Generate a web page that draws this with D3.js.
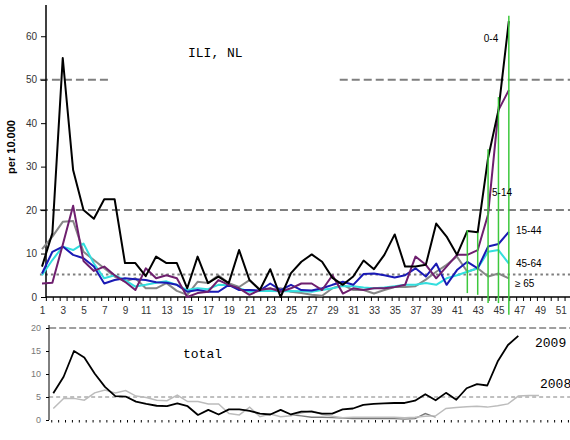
<!DOCTYPE html>
<html>
<head>
<meta charset="utf-8">
<script src="https://cdn.jsdelivr.net/npm/d3@7"></script>
<style>
  body { margin: 0; background: #fff; }
  text { font-family: "Liberation Sans", Arial, sans-serif; }
  .mono { font-family: "Liberation Mono", "Courier New", monospace; }
</style>
</head>
<body>
<svg id="chart" width="570" height="440"></svg>
<script>
// ILI consultation rate per 10.000, by age group, week 1-46 (2009)
var weeks = d3.range(1, 47);
var age0_4   = [7, 14.7, 55, 29.2, 20, 18, 22.5, 22.5, 7.8, 7.8, 4.8, 9.3, 7.8, 7.8, 2, 9.3, 3.2, 4.7, 3.2, 10.8,
                3.9, 1.6, 6.4, 0, 5.5, 8.1, 9.8, 8.1, 4.4, 2.8, 4.7, 8.4, 6.4, 9.7, 14.4, 7, 7, 7.4, 16.9, 13.9,
                9.7, 15.2, 14.9, 32, 43, 63.5];
var age5_14  = [3.1, 3.3, 12, 21, 8.3, 6, 7, 5, 3.5, 1.6, 6.6, 4.3, 5, 4.3, 0, 0.9, 1.2, 3.9, 2.8, 2,
                0.5, 1.6, 2, 1.2, 2, 3.1, 3.1, 1.6, 5, 0.8, 2, 1.6, 2, 2, 2.3, 2.8, 9.3, 7.4, 4.3, 7,
                9.7, 9.7, 10.8, 19, 43, 47.6];
var age15_44 = [5.4, 10.4, 11.6, 9.7, 8.9, 7, 3.1, 3.9, 4.3, 4.1, 3.9, 3.4, 3.3, 2.8, 1.2, 1.6, 1.2, 1.2, 2.8, 1.6,
                1.6, 1.5, 3.1, 1.6, 2.8, 1.6, 1.5, 2, 2.8, 3.5, 2.8, 5.3, 5.4, 5, 4.5, 5, 6.6, 4.7, 7.7, 2.8,
                6.2, 8.1, 6.6, 11.6, 12.2, 15];
var age45_64 = [5, 8.5, 11.6, 10.8, 12.3, 7.7, 4.3, 5, 3.9, 2.4, 2.8, 3.3, 3.6, 2.8, 1.6, 2, 1.8, 2.8, 2.7, 2,
                1.2, 1.4, 1.4, 1.3, 1.4, 1.3, 1.2, 1.6, 2, 2.5, 2.5, 2.2, 2, 2.2, 2.5, 2.8, 2.8, 3.2, 2.8, 4.3,
                5, 5.8, 6.6, 10.4, 10.8, 7.7];
var age65    = [11, 13.9, 17.3, 17.5, 10.4, 8.5, 6.6, 4.7, 3.6, 4.3, 2, 2, 3.2, 1.4, 0.5, 3.5, 3.2, 5, 3.2, 2.3,
                3.9, 1.8, 1.6, 2, 1.2, 0.9, 0.5, 0.3, 2, 2.8, 1.6, 1.6, 0.8, 1.6, 2.3, 2.3, 2.5, 4, 5.8, 7.4,
                9.3, 5.8, 6.6, 4.7, 5.4, 4.3];
var ageLabels = ["0-4", "5-14", "15-44", "45-64", "\u2265 65"];

// green markers at the latest weeks: week, top and bottom value
var markWeeks  = [42, 43, 44, 45, 46];
var markTop    = [15.4, 14.8, 34, 46, 64.7];
var markBottom = [0.9, 0.5, -1.4, -1.4, -4.1];

// reference levels of the top panel: value and week span
var refDashed = [[50, 0.8, 7.6], [50, 29.7, 51.9], [20, 0.8, 51.9]];
var refDotted = [[5.2, 0.8, 51.9]];
var yTicks = [0, 10, 20, 30, 40, 50, 60];
var xTickLabels = d3.range(1, 52, 2);

// total panel
var weeks2008 = d3.range(1, 49);
var total2009 = [5.8, 9.4, 15, 13.6, 10.1, 7.2, 5.2, 5.1, 4, 3.5, 3.1, 3, 3.6, 3, 1.1, 2.2, 1.2, 2.3, 2.3, 2,
                 1.4, 1.2, 2.2, 1.2, 1.8, 1.8, 1.4, 1.4, 2.3, 2.5, 3.3, 3.5, 3.6, 3.7, 3.7, 4.2, 5.6, 4.3, 5.9, 4.4,
                 6.9, 7.8, 7.5, 12.7, 16.3, 18.3];
var total2008 = [2.5, 4.7, 4.7, 4.3, 5.9, 6.5, 5.9, 6.4, 5.2, 4.9, 4.3, 4.2, 5.4, 4, 4, 3.5, 3.5, 1.4, 1.1, 2.8,
                 0.7, 1.3, 0.7, 0.9, 1.5, 2.0, 1.2, 0.8, 0.5, 0.6, 0.6, 0.6, 0.6, 0.6, 0.5, 0.6, 0.8, 0.9, 2.5, 2.7,
                 2.9, 3.0, 2.8, 3.1, 3.5, 5.2, 5.3, 5.3];
var weeksLow = d3.range(24, 39);
var totalLow = [1.1, 0.9, 0.6, 0.6, 0.5, 0.4, 0.3, 0.3, 0.3, 0.3, 0.3, 0.2, 0.3, 1.4, 0.6];
var totalTicks = [0, 5, 10, 15, 20];
var totalDashed = [[20, 0.6, 51.2]];
var totalThin = [[5, 0.6, 51.2]];

var svg = d3.select("#chart");

/*** top panel ***/
var x = d3.scaleLinear().domain([1, 51]).range([42, 560.7]);
var y = d3.scaleLinear().domain([0, 66.5]).range([297, 8]);

// reference lines
svg.selectAll(".ref-dash").data(refDashed).enter().append("line")
    .attr("x1", function(d) { return x(d[1]); })
    .attr("x2", function(d) { return x(d[2]); })
    .attr("y1", function(d) { return y(d[0]); })
    .attr("y2", function(d) { return y(d[0]); })
    .style("stroke", "#7f7f7f").style("stroke-width", 2)
    .style("stroke-dasharray", "8,4");
svg.selectAll(".ref-dot").data(refDotted).enter().append("line")
    .attr("x1", function(d) { return x(d[1]); })
    .attr("x2", function(d) { return x(d[2]); })
    .attr("y1", function(d) { return y(d[0]); })
    .attr("y2", function(d) { return y(d[0]); })
    .style("stroke", "#7f7f7f").style("stroke-width", 2)
    .style("stroke-dasharray", "2.5,3");

// axes
var yAxis = d3.axisLeft(y).tickValues(yTicks).tickSize(5).tickPadding(4);
var gy = svg.append("g").attr("transform", "translate(46,0)").call(yAxis);
gy.select(".domain").remove();
gy.append("line").attr("x1", 0).attr("x2", 0).attr("y1", 5).attr("y2", y(0))
    .style("stroke", "#000").style("stroke-width", 1.5);
gy.selectAll("text").style("font-size", "10px").style("fill", "#333");
gy.selectAll(".tick line").style("stroke", "#000");

var xAxis = d3.axisBottom(x).tickValues(xTickLabels).tickSize(0).tickPadding(10);
var gx = svg.append("g").attr("transform", "translate(0," + y(0) + ")").call(xAxis);
gx.select(".domain").remove();
gx.selectAll("text").style("font-size", "10px").style("fill", "#333");
gx.append("line").attr("x1", 46).attr("x2", 570).attr("y1", 0).attr("y2", 0)
    .style("stroke", "#000").style("stroke-width", 1.5);
gx.selectAll(".minor").data(d3.range(1.42, 52.5, 2 / 3)).enter().append("line")
    .attr("x1", function(d) { return x(d); }).attr("x2", function(d) { return x(d); })
    .attr("y1", 0).attr("y2", 4)
    .style("stroke", "#000");

// y label
svg.append("text")
    .attr("transform", "translate(15,147) rotate(-90)")
    .attr("text-anchor", "middle")
    .style("font-size", "11px").style("font-weight", "bold")
    .text("per 10.000");

svg.append("text").attr("class", "mono")
    .attr("x", 188).attr("y", 57)
    .style("font-size", "13px")
    .text("ILI, NL");

// series
var series = [
  { values: age65,    color: "#878787", width: 2 },
  { values: age45_64, color: "#33dede", width: 2 },
  { values: age15_44, color: "#1a1ab4", width: 2 },
  { values: age5_14,  color: "#6e1f6e", width: 2 },
  { values: age0_4,   color: "#000000", width: 2 }
];
var line = d3.line()
    .x(function(d, i) { return x(weeks[i]); })
    .y(function(d) { return y(d); });

svg.append("g").selectAll("path").data(series).enter().append("path")
    .attr("d", function(d) { return line(d.values); })
    .style("fill", "none")
    .style("stroke", function(d) { return d.color; })
    .style("stroke-width", function(d) { return d.width; })
    .style("stroke-linejoin", "round");

// green markers
svg.append("g").selectAll("line").data(markWeeks).enter().append("line")
    .attr("x1", function(d) { return x(d); }).attr("x2", function(d) { return x(d); })
    .attr("y1", function(d, i) { return y(markTop[i]); })
    .attr("y2", function(d, i) { return y(markBottom[i]); })
    .style("stroke", "#3cc83c").style("stroke-width", 1.5);

// age labels
var labelPos = [[491, 42, "middle"], [492, 196, "start"], [516, 234, "start"], [516, 267, "start"], [515, 287, "start"]];
svg.append("g").selectAll("text").data(ageLabels).enter().append("text")
    .attr("x", function(d, i) { return labelPos[i][0]; })
    .attr("y", function(d, i) { return labelPos[i][1]; })
    .attr("text-anchor", function(d, i) { return labelPos[i][2]; })
    .style("font-size", "10px")
    .text(function(d) { return d; });

/*** bottom panel: total ***/
var x2 = d3.scaleLinear().domain([1, 46]).range([53.3, 518.3]);
var y2 = d3.scaleLinear().domain([0, 20]).range([420, 328]);

svg.selectAll(".tdash").data(totalDashed).enter().append("line")
    .attr("x1", function(d) { return x2(d[1]); })
    .attr("x2", function(d) { return x2(d[2]); })
    .attr("y1", function(d) { return y2(d[0]); })
    .attr("y2", function(d) { return y2(d[0]); })
    .style("stroke", "#808080").style("stroke-width", 1.5)
    .style("stroke-dasharray", "7,3");
svg.selectAll(".tthin").data(totalThin).enter().append("line")
    .attr("x1", function(d) { return x2(d[1]); })
    .attr("x2", function(d) { return x2(d[2]); })
    .attr("y1", function(d) { return y2(d[0]); })
    .attr("y2", function(d) { return y2(d[0]); })
    .style("stroke", "#808080").style("stroke-width", 1)
    .style("stroke-dasharray", "4,3");

var gy2 = svg.append("g").attr("transform", "translate(49,0)")
    .call(d3.axisLeft(y2).tickValues(totalTicks).tickSize(3).tickPadding(5));
gy2.select(".domain").remove();
gy2.append("line").attr("x1", 0).attr("x2", 0).attr("y1", 325).attr("y2", 420)
    .style("stroke", "#000");
gy2.selectAll("text").style("font-size", "9px").style("fill", "#777");

svg.append("g").selectAll("line").data(d3.range(0.85, 51.5, 2 / 3)).enter().append("line")
    .attr("x1", function(d) { return x2(d); }).attr("x2", function(d) { return x2(d); })
    .attr("y1", 420).attr("y2", 422.5)
    .style("stroke", "#000");

var line08 = d3.line()
    .x(function(d, i) { return x2(weeks2008[i]); })
    .y(function(d) { return y2(d); });
var lineLow = d3.line()
    .x(function(d, i) { return x2(weeksLow[i]); })
    .y(function(d) { return y2(d); });
var line09 = d3.line()
    .x(function(d, i) { return x2(weeks[i]); })
    .y(function(d) { return y2(d); });

svg.append("path").attr("d", lineLow(totalLow))
    .style("fill", "none").style("stroke", "#7a7a7a").style("stroke-width", 1.3);
svg.append("path").attr("d", line08(total2008))
    .style("fill", "none").style("stroke", "#bcbcbc").style("stroke-width", 1.5);
svg.append("path").attr("d", line09(total2009))
    .style("fill", "none").style("stroke", "#000").style("stroke-width", 1.8)
    .style("stroke-linejoin", "round");

svg.append("text").attr("class", "mono").attr("x", 183).attr("y", 358)
    .style("font-size", "13px").text("total");
svg.append("text").attr("class", "mono").attr("x", 535).attr("y", 347)
    .style("font-size", "13px").text("2009");
svg.append("text").attr("class", "mono").attr("x", 540).attr("y", 388)
    .style("font-size", "13px").text("2008");
</script>
</body>
</html>
